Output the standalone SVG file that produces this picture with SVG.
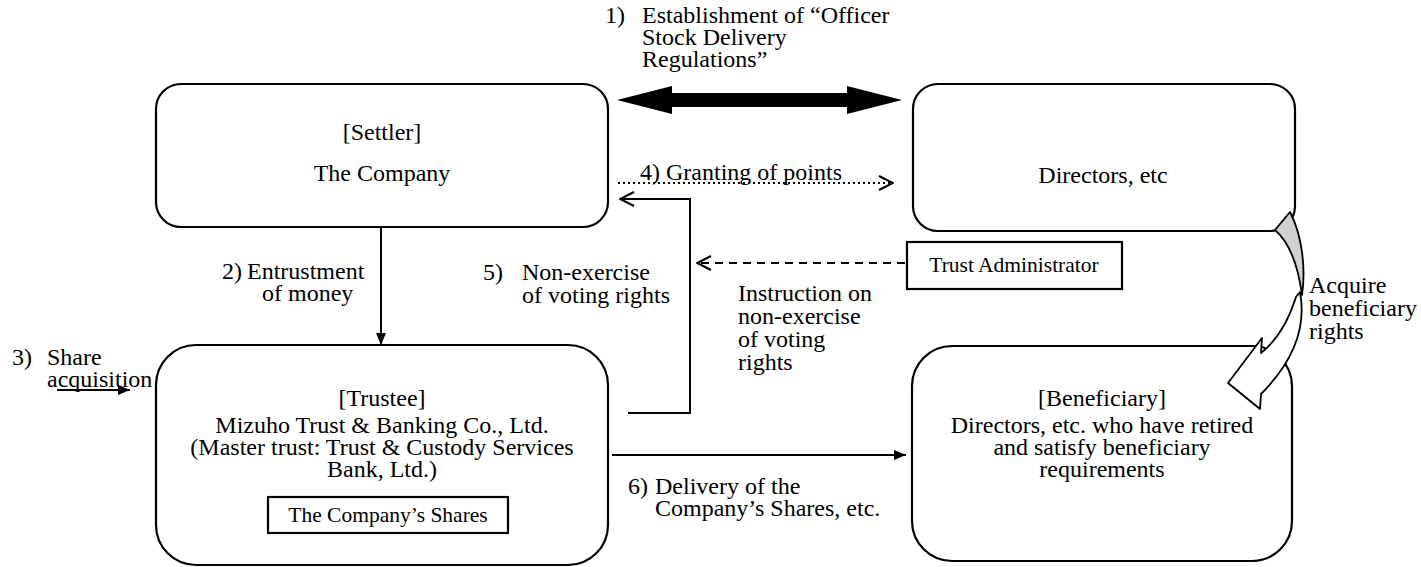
<svg xmlns="http://www.w3.org/2000/svg" width="1421" height="567" viewBox="0 0 1421 567">
<style>
text{font-family:"Liberation Serif","Times New Roman",serif;font-size:24px;fill:#000}
.c{text-anchor:middle}
.s{font-size:21.5px}
.box{fill:#fff;stroke:#000;stroke-width:2.2}
.ln{fill:none;stroke:#000;stroke-width:2}
</style>
<defs>
<marker id="fa" viewBox="0 0 12 10" refX="12" refY="5" markerWidth="12" markerHeight="10" markerUnits="userSpaceOnUse" orient="auto"><path d="M0,0 L12,5 L0,10 Z" fill="#000"/></marker>
<marker id="oa" viewBox="0 0 16 16" refX="15" refY="8" markerWidth="16" markerHeight="16" markerUnits="userSpaceOnUse" orient="auto"><path d="M1,1 L15,8 L1,15" fill="none" stroke="#000" stroke-width="2"/></marker>
</defs>

<g id="settler">
<rect class="box" x="156" y="84" width="452" height="143" rx="25"/>
<text class="c" x="382" y="140">[Settler]</text>
<text class="c" x="382" y="181">The Company</text>
</g>

<g id="directors">
<rect class="box" x="913" y="84" width="382" height="147" rx="25"/>
<text class="c" x="1103" y="183">Directors, etc</text>
</g>

<g id="trust-admin">
<rect class="box" x="907" y="242" width="215" height="47"/>
<text class="c s" x="1014" y="272">Trust Administrator</text>
</g>

<g id="trustee">
<rect class="box" x="156" y="345" width="452" height="220" rx="40"/>
<text class="c" x="382" y="406">[Trustee]</text>
<text class="c" x="382" y="433">Mizuho Trust &amp; Banking Co., Ltd.</text>
<text class="c" x="382" y="455">(Master trust: Trust &amp; Custody Services</text>
<text class="c" x="382" y="477">Bank, Ltd.)</text>
<rect class="box" x="268" y="497" width="240" height="36"/>
<text class="c s" x="388" y="522">The Company’s Shares</text>
</g>

<g id="beneficiary">
<rect class="box" x="912" y="346" width="380" height="215" rx="40"/>
<text class="c" x="1102" y="406">[Beneficiary]</text>
<text class="c" x="1102" y="433">Directors, etc. who have retired</text>
<text class="c" x="1102" y="455">and satisfy beneficiary</text>
<text class="c" x="1102" y="477">requirements</text>
</g>

<g id="connectors">
<path d="M617,100 L672,86 L672,93 L847,93 L847,86 L902,100 L847,114 L847,107 L672,107 L672,114 Z" fill="#000"/>
<line class="ln" x1="618" y1="183" x2="893" y2="183" stroke-dasharray="2,3" marker-end="url(#oa)"/>
<path class="ln" d="M628,413 H690 V199 H620" marker-end="url(#oa)"/>
<line class="ln" x1="905" y1="263" x2="697" y2="263" stroke-dasharray="8,6" marker-end="url(#oa)"/>
<line class="ln" x1="381" y1="227" x2="381" y2="345" marker-end="url(#fa)"/>
<line class="ln" x1="57" y1="390" x2="130" y2="390" marker-end="url(#fa)"/>
<line class="ln" x1="612" y1="455" x2="906" y2="455" marker-end="url(#fa)"/>
<path d="M1290,212 C1302,235 1306,268 1302,295 C1298,265 1290,243 1275,230 Z" fill="#d0d0d0" stroke="#000" stroke-width="1.8" stroke-linejoin="round"/>
<path d="M1300,292 Q1310,345 1261,394 L1260,409 L1228,383 L1262,338 L1261,353 Q1284,335 1296,297 Z" fill="#fff" stroke="#000" stroke-width="1.8" stroke-linejoin="round"/>
</g>

<g id="labels">
<text x="605" y="23">1)</text>
<text x="642" y="23">Establishment of “Officer</text>
<text x="642" y="45">Stock Delivery</text>
<text x="642" y="67">Regulations”</text>
<text x="640" y="180">4) Granting of points</text>
<text x="222" y="279">2)</text>
<text x="247" y="279">Entrustment</text>
<text x="262" y="301">of money</text>
<text x="483" y="280">5)</text>
<text x="522" y="280">Non-exercise</text>
<text x="522" y="303">of voting rights</text>
<text x="738" y="301">Instruction on</text>
<text x="738" y="324">non-exercise</text>
<text x="738" y="347">of voting</text>
<text x="738" y="370">rights</text>
<text x="1309" y="293">Acquire</text>
<text x="1309" y="316">beneficiary</text>
<text x="1309" y="339">rights</text>
<text x="12" y="365">3)</text>
<text x="47" y="365">Share</text>
<text x="47" y="387">acquisition</text>
<text x="628" y="494">6)</text>
<text x="655" y="494">Delivery of the</text>
<text x="655" y="516">Company’s Shares, etc.</text>
</g>
</svg>
